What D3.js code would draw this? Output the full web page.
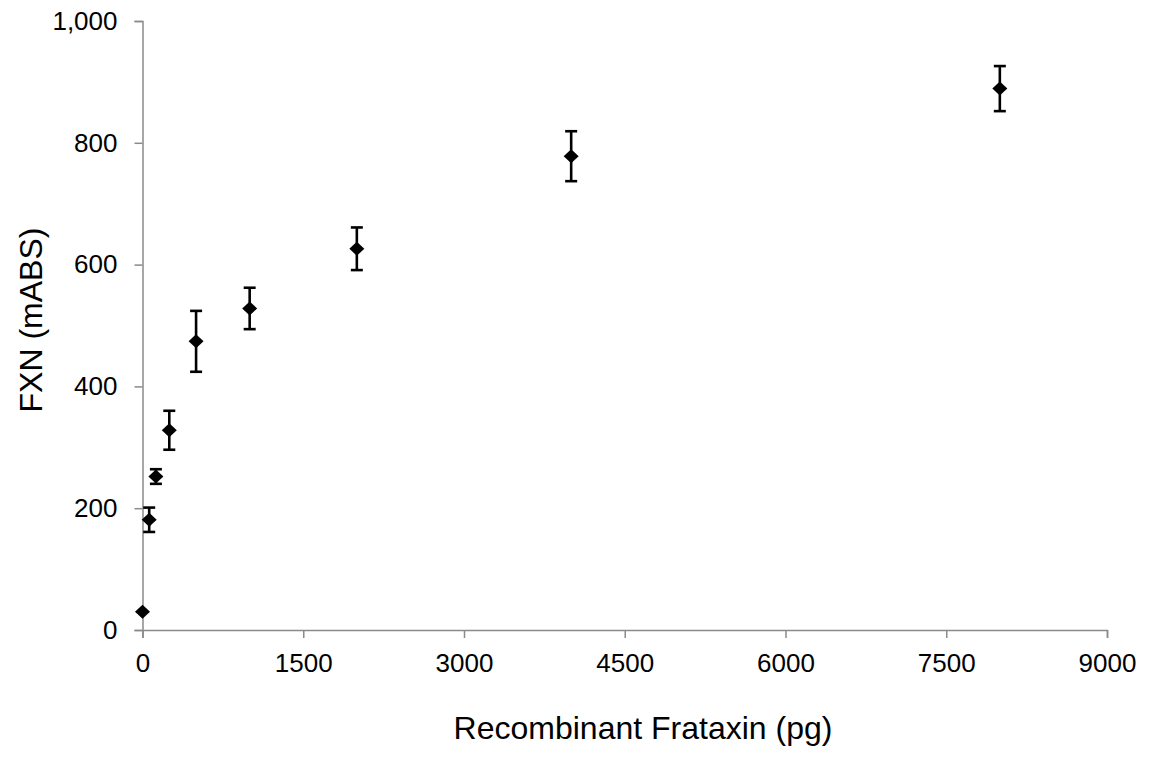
<!DOCTYPE html>
<html>
<head>
<meta charset="utf-8">
<script src="https://cdn.jsdelivr.net/npm/d3@7"></script>
<style>
  body { margin: 0; background: #fff; }
  svg { display: block; }
  text { font-family: "Liberation Sans", Arial, sans-serif; fill: #000; }
</style>
</head>
<body>
<script>
// recombinant frataxin standard curve
var amounts = [0, 62.5, 125, 250, 500, 1000, 2000, 4000, 8000];   // pg
var signal  = [30, 181, 252, 328, 474, 528, 626, 778, 889];       // mABS
var errors  = [0, 20, 12, 32, 50, 34, 35, 41, 37];

var xTicks = [0, 1500, 3000, 4500, 6000, 7500, 9000];
var yTicks = [0, 200, 400, 600, 800, 1000];

var width = 1159, height = 758;
var margin = { left: 142.5, right: 52, top: 21, bottom: 128 };

var svg = d3.select("body").append("svg")
  .attr("width", width)
  .attr("height", height);

var x = d3.scaleLinear().domain([0, 9000]).range([margin.left, width - margin.right]);
var y = d3.scaleLinear().domain([0, 1000]).range([height - margin.bottom, margin.top]);

// axes
var xAxis = svg.append("g")
  .attr("transform", "translate(0," + y(0) + ")")
  .call(d3.axisBottom(x).tickValues(xTicks).tickSize(8).tickPadding(16).tickFormat(d3.format("d")));

var yAxis = svg.append("g")
  .attr("transform", "translate(" + x(0) + ",0)")
  .call(d3.axisLeft(y).tickValues(yTicks).tickSize(8).tickPadding(17).tickFormat(d3.format(",")));

[xAxis, yAxis].forEach(function(g) {
  g.select(".domain").attr("stroke", "#8a8a8a").attr("stroke-width", 1.5);
  g.selectAll(".tick line").attr("stroke", "#8a8a8a").attr("stroke-width", 1.5);
  g.selectAll(".tick text").attr("font-size", "26px").attr("fill", "#000")
    .style("font-family", "'Liberation Sans', Arial, sans-serif");
});
xAxis.selectAll(".tick text").attr("dy", "0.68em");

// axis titles
svg.append("text")
  .attr("x", 643)
  .attr("y", 739)
  .attr("text-anchor", "middle")
  .attr("font-size", "32px")
  .text("Recombinant Frataxin (pg)");

svg.append("text")
  .attr("transform", "translate(42,320) rotate(-90)")
  .attr("text-anchor", "middle")
  .attr("font-size", "32px")
  .text("FXN (mABS)");

var pts = amounts.map(function(a, i) {
  return { x: a, y: signal[i], e: errors[i] };
});

// error bars
var bars = svg.append("g").attr("stroke", "#000").attr("stroke-width", 2.6);
pts.filter(function(d) { return d.e > 0; }).forEach(function(d) {
  var cx = x(d.x);
  bars.append("line")
    .attr("x1", cx).attr("x2", cx)
    .attr("y1", y(d.y - d.e)).attr("y2", y(d.y + d.e));
  bars.append("line")
    .attr("x1", cx - 6).attr("x2", cx + 6)
    .attr("y1", y(d.y + d.e)).attr("y2", y(d.y + d.e));
  bars.append("line")
    .attr("x1", cx - 6).attr("x2", cx + 6)
    .attr("y1", y(d.y - d.e)).attr("y2", y(d.y - d.e));
});

// diamond markers
svg.append("g").selectAll(".pt")
  .data(pts)
  .enter().append("path")
  .attr("class", "pt")
  .attr("fill", "#000")
  .attr("d", function(d) {
    var cx = x(d.x), cy = y(d.y), hw = 7.5, hh = 7;
    return "M" + (cx - hw) + "," + cy + "L" + cx + "," + (cy - hh) +
      "L" + (cx + hw) + "," + cy + "L" + cx + "," + (cy + hh) + "Z";
  });
</script>
</body>
</html>
